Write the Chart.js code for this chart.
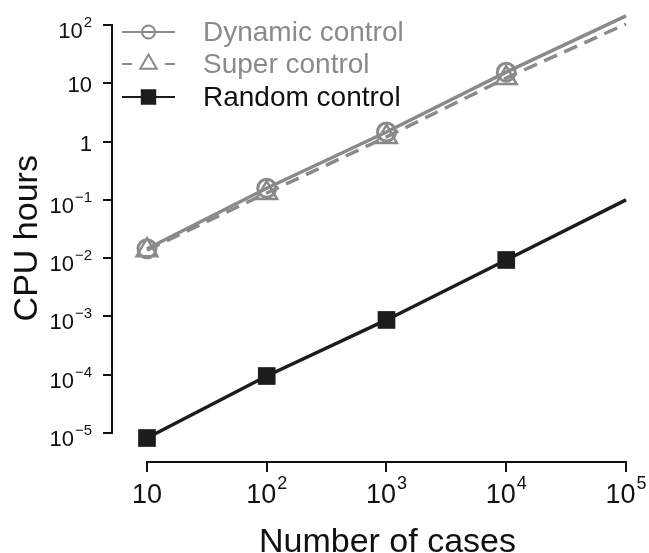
<!DOCTYPE html>
<html>
<head>
<meta charset="utf-8">
<script src="https://cdn.jsdelivr.net/npm/chart.js@4"></script>
<style>
  html, body { margin: 0; padding: 0; background: #fff; }
  #wrap { width: 649px; height: 553px; }
</style>
</head>
<body>
<div id="wrap"><canvas id="cpu"></canvas></div>
<script>
const cases = [10, 100, 1000, 10000, 100000];
const dynamicControl = [0.0145, 0.158, 1.46, 15.5, 143];
const superControl = [0.0137, 0.131, 1.2, 12.3, 104];
const randomControl = [0.0000082, 0.000095, 0.00087, 0.0093, 0.1];

const xTicks = [10, 100, 1000, 10000, 100000];
const xTickLabels = ['10', '10^2', '10^3', '10^4', '10^5'];
const yTicks = [100, 10, 1, 0.1, 0.01, 0.001, 0.0001, 0.00001];
const yTickLabels = ['10^2', '10', '1', '10^\u22121', '10^\u22122', '10^\u22123', '10^\u22124', '10^\u22125'];

const GRAY = '#8a8a8a';
const DARK = '#1c1c1c';
const FONT = "'Liberation Sans', Arial, sans-serif";

function pts(ys) {
    return cases.map((x, i) => ({x: x, y: ys[i]}));
}

// R style axes: line only between first and last tick, labels with real superscripts
const axisLines = {
    id: 'axisLines',
    afterDraw(chart) {
        const ctx = chart.ctx, xs = chart.scales.x, ys = chart.scales.y, a = chart.chartArea;
        ctx.save();
        ctx.strokeStyle = '#111';
        ctx.lineWidth = 2;
        ctx.beginPath();
        ctx.moveTo(xs.getPixelForValue(xTicks[0]) - 1, a.bottom);
        ctx.lineTo(xs.getPixelForValue(xTicks[xTicks.length - 1]) + 1, a.bottom);
        ctx.moveTo(a.left, ys.getPixelForValue(yTicks[yTicks.length - 1]) + 1);
        ctx.lineTo(a.left, ys.getPixelForValue(yTicks[0]) - 1);
        ctx.stroke();

        ctx.fillStyle = '#111';
        ctx.textBaseline = 'alphabetic';
        ctx.textAlign = 'left';

        function measure(lbl, b, e) {
            const [base, exp] = lbl.split('^');
            ctx.font = b + 'px ' + FONT;
            const wb = ctx.measureText(base).width;
            let we = 0;
            if (exp) { ctx.font = e + 'px ' + FONT; we = ctx.measureText(exp).width + 1; }
            return {base, exp, wb, we};
        }
        function put(m, x0, baseY, b, e, raise) {
            ctx.font = b + 'px ' + FONT;
            ctx.fillText(m.base, x0, baseY);
            if (m.exp) {
                ctx.font = e + 'px ' + FONT;
                ctx.fillText(m.exp, x0 + m.wb + 1, baseY - raise);
            }
        }

        // x tick labels
        xTicks.forEach((v, i) => {
            const m = measure(xTickLabels[i], 27, 18);
            const px = xs.getPixelForValue(v);
            put(m, px - (m.wb + m.we) / 2, 503, 27, 18, 14);
        });
        // y tick labels
        yTicks.forEach((v, i) => {
            const m = measure(yTickLabels[i], 22, 15);
            const py = ys.getPixelForValue(v);
            put(m, 92 - (m.wb + m.we), py + 9 + (m.exp ? 4 : 0), 22, 15, 11);
        });

        // x title, centred on the plotted range
        ctx.font = '34px ' + FONT;
        ctx.textAlign = 'center';
        ctx.textBaseline = 'middle';
        const mid = (xs.getPixelForValue(xTicks[0]) + xs.getPixelForValue(xTicks[xTicks.length - 1])) / 2;
        ctx.fillText('Number of cases', mid + 1, 543);
        ctx.restore();
    }
};

// legend in the upper left corner of the plot
const insideLegend = {
    id: 'insideLegend',
    afterDraw(chart) {
        const ctx = chart.ctx;
        const rows = [32, 64, 97];
        const radii = [6.5, 9.5, 9.5];
        ctx.save();
        chart.data.datasets.forEach((ds, i) => {
            const y = rows[i];
            const dashed = ds.borderDash && ds.borderDash.length;
            ctx.strokeStyle = ds.borderColor;
            ctx.lineWidth = 2;
            ctx.beginPath();
            if (dashed) {
                ctx.moveTo(122, y); ctx.lineTo(132, y);
                ctx.moveTo(165, y); ctx.lineTo(175, y);
            } else {
                ctx.moveTo(122, y); ctx.lineTo(175, y);
            }
            ctx.stroke();
            ctx.fillStyle = ds.pointBackgroundColor;
            ctx.strokeStyle = ds.borderColor;
            ctx.lineWidth = 2;
            Chart.helpers.drawPoint(ctx, {pointStyle: ds.pointStyle, radius: radii[i], borderWidth: 2, rotation: 0}, 148.5, y);
            ctx.fillStyle = ds.legendTextColor;
            ctx.font = '28px ' + FONT;
            ctx.textAlign = 'left';
            ctx.textBaseline = 'middle';
            ctx.fillText(ds.label, 203, y + 1);
        });
        ctx.restore();
    }
};

new Chart(document.getElementById('cpu'), {
    type: 'line',
    data: {
        datasets: [{
            label: 'Dynamic control',
            data: pts(dynamicControl),
            borderColor: GRAY,
            borderWidth: 3.5,
            pointStyle: 'circle',
            pointRadius: [9, 9, 9, 9, 0],
            pointBorderWidth: 3,
            pointBackgroundColor: 'rgba(0,0,0,0)',
            pointBorderColor: GRAY,
            legendTextColor: GRAY,
            clip: 20
        }, {
            label: 'Super control',
            data: pts(superControl),
            borderColor: GRAY,
            borderWidth: 3.5,
            borderDash: [14, 8],
            pointStyle: 'triangle',
            pointRadius: [12, 12, 12, 12, 0],
            pointBorderWidth: 2.5,
            pointBackgroundColor: 'rgba(0,0,0,0)',
            pointBorderColor: GRAY,
            legendTextColor: GRAY,
            clip: 20
        }, {
            label: 'Random control',
            data: pts(randomControl),
            borderColor: DARK,
            borderWidth: 3.5,
            pointStyle: 'rect',
            pointRadius: [12.5, 12.5, 12.5, 12.5, 0],
            pointBorderWidth: 0,
            pointBackgroundColor: DARK,
            pointBorderColor: DARK,
            legendTextColor: '#111',
            clip: 20
        }]
    },
    options: {
        responsive: true,
        maintainAspectRatio: false,
        animation: false,
        layout: { padding: 0 },
        plugins: {
            legend: { display: false },
            tooltip: { enabled: false }
        },
        scales: {
            x: {
                type: 'logarithmic',
                min: 5.103,
                max: 117760,
                afterBuildTicks: s => { s.ticks = xTicks.map(v => ({value: v})); },
                afterFit: s => { s.height = 91; },
                border: { display: false },
                grid: { drawOnChartArea: false, drawTicks: true, tickLength: 10, color: '#111', lineWidth: 2 },
                ticks: { display: false, autoSkip: false }
            },
            y: {
                type: 'logarithmic',
                min: 0.00000318,
                max: 151.4,
                afterBuildTicks: s => { s.ticks = yTicks.map(v => ({value: v})); },
                afterFit: s => { s.width = 112; },
                border: { display: false },
                grid: { drawOnChartArea: false, drawTicks: true, tickLength: 9, color: '#111', lineWidth: 2 },
                ticks: { display: false, autoSkip: false },
                title: {
                    display: true,
                    text: 'CPU hours',
                    color: '#111',
                    padding: 0,
                    font: { family: FONT, size: 34, lineHeight: 1.6 }
                }
            }
        }
    },
    plugins: [axisLines, insideLegend]
});
</script>
</body>
</html>
